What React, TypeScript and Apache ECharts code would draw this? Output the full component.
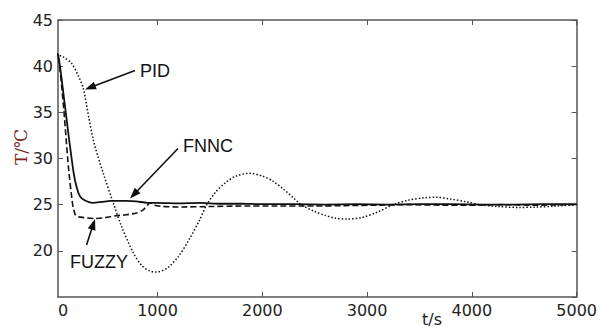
import React, { useEffect, useRef } from "react";
import * as echarts from "echarts";

// ---- data ----
const fnncT = [0, 50, 100, 150, 200, 230, 260, 300, 380, 470, 550, 700, 800, 900, 1000, 1200, 1400, 1600, 1800, 2000, 2300, 2600, 2900, 3200, 3500, 3800, 4100, 4400, 4700, 5000];
const fnncV = [41.6, 41.2, 37.2, 32.6, 28.4, 26.8, 25.9, 25.5, 25.2, 25.3, 25.4, 25.4, 25.35, 25.2, 25.2, 25.15, 25.2, 25.1, 25.1, 25.05, 25.05, 25.0, 25.05, 25.0, 25.05, 25.05, 25.0, 25.0, 25.05, 25.05];

const fuzzyT = [0, 50, 100, 150, 190, 215, 240, 300, 400, 500, 600, 700, 800, 860, 900, 930, 970, 1050, 1200, 1500, 1800, 2100, 2500, 2800, 3100, 3400, 3700, 4000, 4300, 4600, 5000];
const fuzzyV = [41.6, 41.2, 36.0, 29.0, 25.0, 23.9, 23.7, 23.6, 23.5, 23.6, 23.8, 23.9, 24.1, 24.4, 24.9, 25.2, 24.95, 24.8, 24.75, 24.8, 24.85, 24.85, 24.85, 24.9, 24.95, 25.0, 24.95, 24.95, 25.0, 24.95, 25.0];

const pidT = [0, 50, 100, 180, 250, 291, 387, 482, 577, 658, 768, 850, 920, 991, 1100, 1200, 1300, 1400, 1470, 1550, 1650, 1750, 1880, 2000, 2100, 2200, 2300, 2370, 2500, 2600, 2700, 2800, 2950, 3100, 3250, 3400, 3550, 3660, 3800, 3950, 4075, 4250, 4450, 4600, 4800, 5000];
const pidV = [41.3, 41.2, 41.0, 40.3, 38.8, 37.6, 32.0, 28.4, 25.2, 22.6, 19.8, 18.4, 17.85, 17.7, 18.2, 19.4, 21.2, 23.3, 25.0, 26.3, 27.4, 28.1, 28.4, 28.1, 27.55, 26.7, 25.7, 25.0, 24.26, 23.84, 23.54, 23.45, 23.6, 24.2, 25.0, 25.5, 25.75, 25.8, 25.6, 25.3, 25.0, 24.8, 24.7, 24.73, 24.85, 25.0];

const xTicks = [1000, 2000, 3000, 4000, 5000];
const xLabelValues = [50, 1000, 2000, 3000, 4000, 5000];
const xLabelTexts = ["0", "1000", "2000", "3000", "4000", "5000"];

const zip = (t: number[], v: number[]) => t.map((x, i) => [x, v[i]]);

function arrow(fx: number, fy: number, tx: number, ty: number) {
  const dx = tx - fx, dy = ty - fy;
  const len = Math.sqrt(dx * dx + dy * dy);
  const ux = dx / len, uy = dy / len;
  const nx = -uy, ny = ux;
  const hl = 11, hw = 4;
  const bx = tx - ux * hl, by = ty - uy * hl;
  return [
    { type: "line", shape: { x1: fx, y1: fy, x2: bx + ux * 2, y2: by + uy * 2 }, style: { stroke: "#111", lineWidth: 1.6 }, silent: true },
    { type: "polygon", shape: { points: [[tx, ty], [bx + nx * hw, by + ny * hw], [bx - nx * hw, by - ny * hw]] }, style: { fill: "#111" }, silent: true },
  ];
}

export default function App() {
  const ref = useRef<HTMLDivElement>(null);
  useEffect(() => {
    document.body.style.margin = "0";
    const chart = echarts.init(ref.current!, null, { renderer: "svg" });
    const axisColor = "#555";
    const labelFont = { fontFamily: "DejaVu Sans", fontSize: 16, color: "#222" };
    const xBase = {
      type: "value",
      min: 50,
      max: 5000,
      axisLine: { show: true, onZero: false, lineStyle: { color: axisColor, width: 1.5 } },
      axisTick: { show: true, inside: true, length: 5, customValues: xTicks, lineStyle: { color: axisColor } },
      splitLine: { show: false },
    };
    const yBase = {
      type: "value",
      min: 15,
      max: 45,
      interval: 5,
      axisLine: { show: true, onZero: false, lineStyle: { color: axisColor, width: 1.5 } },
      axisTick: { show: true, inside: true, length: 5, lineStyle: { color: axisColor } },
      splitLine: { show: false },
    };
    const textStyle = { fontFamily: "Liberation Sans", fontSize: 18, fill: "#111" };
    chart.setOption({
      animation: false,
      grid: { left: 58, right: 23, top: 20, bottom: 30, containLabel: false },
      xAxis: [
        {
          ...xBase,
          position: "bottom",
          axisLabel: {
            ...labelFont,
            margin: 5,
            customValues: xLabelValues,
            alignMinLabel: "left",
            formatter: (v: number) => {
              const i = xLabelValues.indexOf(v);
              return i >= 0 ? xLabelTexts[i] : String(v);
            },
          },
        },
        { ...xBase, position: "top", axisLabel: { show: false } },
      ],
      yAxis: [
        { ...yBase, position: "left", axisLabel: { ...labelFont, margin: 5, showMinLabel: false } },
        { ...yBase, position: "right", axisLabel: { show: false } },
      ],
      series: [
        {
          name: "PID",
          type: "line",
          data: zip(pidT, pidV),
          showSymbol: false,
          smooth: 0.3,
          lineStyle: { color: "#111", width: 1.5, type: [1.5, 2] },
        },
        {
          name: "FUZZY",
          type: "line",
          data: zip(fuzzyT, fuzzyV),
          showSymbol: false,
          smooth: 0.2,
          lineStyle: { color: "#111", width: 1.6, type: [6, 3] },
        },
        {
          name: "FNNC",
          type: "line",
          data: zip(fnncT, fnncV),
          showSymbol: false,
          smooth: 0.2,
          lineStyle: { color: "#111", width: 1.8, type: "solid" },
        },
      ],
      graphic: [
        { type: "text", x: 140, y: 71, style: { ...textStyle, text: "PID", verticalAlign: "middle" }, silent: true },
        { type: "text", x: 183, y: 146, style: { ...textStyle, text: "FNNC", verticalAlign: "middle" }, silent: true },
        { type: "text", x: 70, y: 262, style: { ...textStyle, text: "FUZZY", verticalAlign: "middle" }, silent: true },
        ...arrow(135, 70.5, 85, 89.5),
        ...arrow(178, 148.5, 130, 198.5),
        ...arrow(86.5, 245, 95, 219),
        {
          type: "text",
          x: 21,
          y: 147,
          rotation: Math.PI / 2,
          style: { text: "T/℃", fontFamily: "DejaVu Serif", fontSize: 17, fill: "#7a2418", align: "center", verticalAlign: "middle" },
          silent: true,
        },
        { type: "text", x: 432, y: 319, style: { text: "t/s", fontFamily: "DejaVu Sans", fontSize: 16, fill: "#222", align: "center", verticalAlign: "middle" }, silent: true },
      ],
    });
    return () => chart.dispose();
  }, []);
  return <div ref={ref} style={{ width: 600, height: 327 }} />;
}
